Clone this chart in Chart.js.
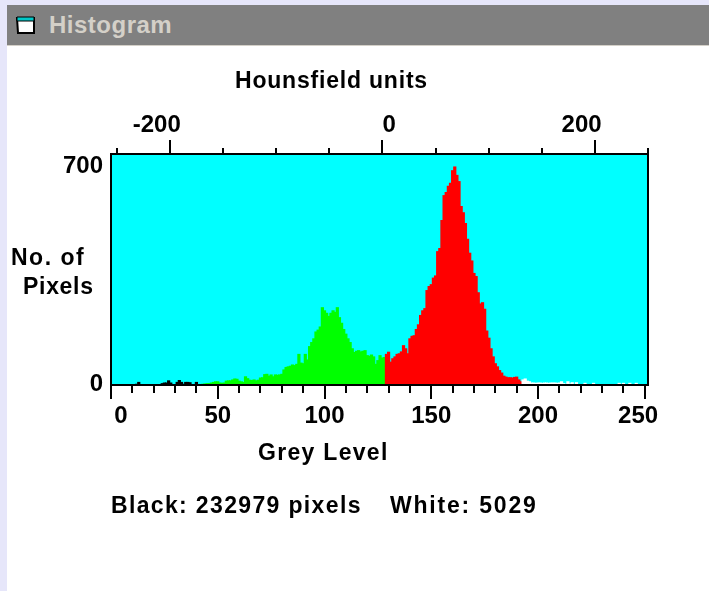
<!DOCTYPE html>
<html lang="en">
<head>
  <meta charset="UTF-8">
  <title>Histogram</title>
  <script src="https://cdn.jsdelivr.net/npm/chart.js"></script>
  <style>
    html, body { margin: 0; height: 100%; background: #e6e6fa; overflow: hidden; }
    body { font-family: "Liberation Sans", Arial, sans-serif; font-weight: bold; color: #000; }
    #win { position: absolute; left: 7px; top: 5px; right: 0; bottom: 0; background: #fff; }
    #bar { position: absolute; left: 0; top: 0; right: 0; height: 40px; background: #808080; border-bottom: 1px solid #d4d0c8; }
    #bar svg { position: absolute; left: 8px; top: 9px; }
    #bar span { position: absolute; left: 42px; top: 6px; font-size: 24px; letter-spacing: 0.5px; color: #d4d0c8; white-space: pre; }
    canvas { position: absolute; left: 0; top: 0; }
    .txt { position: absolute; font-size: 23px; line-height: 26px; white-space: pre; }
  </style>
</head>
<body>
  <div id="win">
    <div id="bar">
      <svg width="22" height="22" viewBox="0 0 22 22">
        <path d="M2 4h17v15H3z" fill="#fff" stroke="#000" stroke-width="2"/>
        <path d="M2 3h17v4H2z" fill="#00c8c8" stroke="#000" stroke-width="1"/>
      </svg>
      <span>Histogram</span>
    </div>
  </div>
  <canvas id="hist" width="709" height="591"></canvas>
  <div class="txt" style="left:235px;top:67px;letter-spacing:0.8px">Hounsfield units</div>
  <div class="txt" style="left:258px;top:439px;letter-spacing:1.3px">Grey Level</div>
  <div class="txt" style="left:11px;top:244px;letter-spacing:1.5px">No. of</div>
  <div class="txt" style="left:23px;top:273px;letter-spacing:0.7px">Pixels</div>
  <div class="txt" style="left:111px;top:492px;letter-spacing:1.35px">Black: 232979 pixels</div>
  <div class="txt" style="left:390px;top:492px;letter-spacing:1.8px">White: 5029</div>

  <script>
    // pixel counts per grey level 0..251
    const counts = [
      0, 0, 0, 0, 0, 0, 0, 0, 0, 0,
      0, 0, 4, 10, 0, 0, 0, 0, 0, 0,
      0, 0, 0, 0, 6, 8, 8, 15, 8, 2,
      3, 10, 16, 10, 4, 10, 10, 9, 1, 2,
      10, 2, 3, 4, 5, 6, 6, 8, 10, 12,
      12, 8, 7, 8, 14, 15, 15, 18, 21, 20,
      14, 12, 10, 28, 22, 17, 16, 18, 15, 17,
      24, 25, 35, 36, 30, 34, 28, 34, 33, 34,
      36, 50, 58, 60, 62, 66, 64, 68, 100, 72,
      70, 100, 82, 125, 138, 150, 172, 178, 188, 250,
      240, 232, 222, 232, 240, 235, 250, 218, 200, 180,
      165, 150, 138, 118, 106, 110, 112, 108, 110, 112,
      96, 94, 98, 92, 68, 80, 96, 88, 90, 100,
      107, 75, 86, 92, 100, 102, 108, 128, 118, 102,
      150, 158, 160, 180, 195, 225, 240, 247, 305, 318,
      324, 345, 352, 430, 440, 530, 610, 620, 640, 650,
      690, 702, 675, 655, 575, 555, 520, 470, 425, 400,
      360, 350, 298, 262, 266, 245, 175, 152, 118, 92,
      70, 60, 48, 40, 30, 27, 25, 25, 24, 26,
      27, 18, 12, 18, 21, 14, 12, 8, 8, 7,
      8, 8, 7, 8, 8, 7, 8, 8, 8, 7,
      8, 12, 6, 4, 12, 5, 9, 3, 9, 1,
      0, 0, 7, 0, 0, 0, 7, 0, 0, 0,
      0, 0, 0, 0, 0, 0, 0, 0, 7, 0,
      7, 0, 0, 7, 0, 0, 7, 0, 0, 0,
      0, 0
    ];
    const levels = counts.map((_, i) => i);
    const blackEnd = 41, greenEnd = 128, redEnd = 192;

    const levelLabels = { 0: '   0', 50: '50', 100: '100', 150: '150', 200: '200', 250: '250  ' };
    const huLabels = { '-200': '-200    ', 0: '  0', 200: '200    ' };
    const pixelTicks = [0, 700];

    const font = { family: '"Liberation Sans", Arial, sans-serif', size: 24, weight: 'bold' };

    function barColour(ctx) {
      const l = ctx.dataIndex;
      if (l <= blackEnd) return '#000000';
      if (l <= greenEnd) return '#00ff00';
      if (l <= redEnd) return '#ff0000';
      return '#ffffff';
    }

    // cyan plot background, black frame and the short ticks (Chart.js has one tick length per axis)
    const framePlugin = {
      id: 'frame',
      beforeDatasetsDraw(chart) {
        const a = chart.chartArea, c = chart.ctx;
        c.save();
        c.fillStyle = '#00ffff';
        c.fillRect(a.left, a.top, a.width, a.height);
        c.restore();
      },
      afterDraw(chart) {
        const a = chart.chartArea, c = chart.ctx;
        c.save();
        c.strokeStyle = '#000';
        c.lineWidth = 2;
        c.strokeRect(a.left, a.top, a.width, a.height);
        c.beginPath();
        chart.scales.x.ticks.forEach(t => {
          if (t.value % 50 === 0) return;
          const x = Math.round(chart.scales.x.getPixelForValue(t.value));
          c.moveTo(x, a.bottom);
          c.lineTo(x, a.bottom + 8);
        });
        chart.scales.xTop.ticks.forEach(t => {
          if (t.value % 100 === 0 && Math.abs(t.value) !== 100) return;
          const x = Math.round(chart.scales.xTop.getPixelForValue(t.value));
          c.moveTo(x, a.top);
          c.lineTo(x, a.top - 6);
        });
        c.stroke();
        c.restore();
      }
    };

    new Chart(document.getElementById('hist'), {
      type: 'bar',
      data: {
        labels: levels,
        datasets: [{
          data: counts,
          backgroundColor: barColour,
          borderWidth: 0,
          barPercentage: 1.5,
          categoryPercentage: 1
        }]
      },
      plugins: [framePlugin],
      options: {
        responsive: false,
        animation: false,
        layout: { padding: { left: 0, right: 61, top: 0, bottom: 0 } },
        plugins: { legend: { display: false }, tooltip: { enabled: false }, title: { display: false } },
        scales: {
          x: {
            type: 'linear', position: 'bottom', offset: false, min: 0, max: 251.5,
            afterFit: s => { s.height = 206; },
            border: { display: false },
            grid: {
              offset: false, drawOnChartArea: false, tickLength: 14, lineWidth: 2,
              tickColor: c => (c.tick && c.tick.value % 50 === 0 ? '#000' : 'transparent')
            },
            ticks: {
              stepSize: 10, autoSkip: false, maxRotation: 0, includeBounds: false, color: '#000', font, padding: 3,
              callback: v => levelLabels[v] || ''
            }
          },
          xTop: {
            type: 'linear', axis: 'x', position: 'top', offset: false, min: -255.6, max: 250,
            afterFit: s => { s.height = 154; },
            border: { display: false },
            grid: {
              offset: false, drawOnChartArea: false, tickLength: 14, lineWidth: 2,
              tickColor: c => (c.tick && c.tick.value % 100 === 0 && Math.abs(c.tick.value) !== 100 ? '#000' : 'transparent')
            },
            ticks: {
              stepSize: 50, autoSkip: false, maxRotation: 0, includeBounds: false, color: '#000', font, padding: 0,
              callback: v => huLabels[v] || ''
            }
          },
          y: {
            type: 'linear', min: 0, max: 742,
            afterFit: s => { s.width = 111; },
            afterBuildTicks: s => { s.ticks = pixelTicks.map(value => ({ value })); },
            border: { display: false },
            grid: { display: false },
            ticks: {
              autoSkip: false, color: '#000', font, padding: 0, labelOffset: -1,
              callback: v => String(v)
            }
          }
        }
      }
    });
  </script>
</body>
</html>
